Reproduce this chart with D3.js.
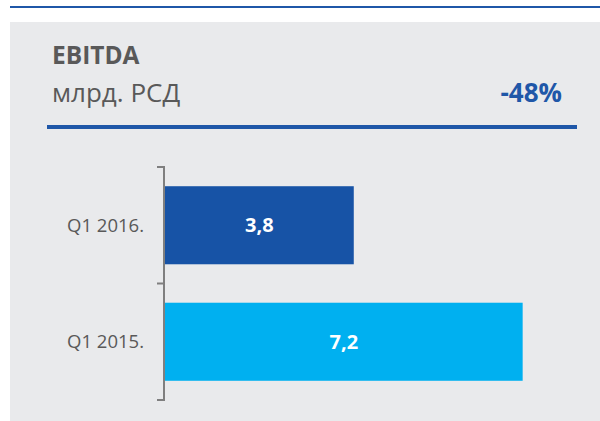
<!DOCTYPE html>
<html lang="sr">
<head>
  <meta charset="UTF-8">
  <title>EBITDA</title>
  <script src="https://cdn.jsdelivr.net/npm/d3@7"></script>
  <style>
    body {
      margin: 0;
      padding: 0;
      background: #fff;
      font-family: "Open Sans", sans-serif;
    }
  </style>
</head>
<body>
  <div id="chart"></div>
  <script>
    // data
    const categories = ["Q1 2016.", "Q1 2015."];
    const values = [3.8, 7.2];
    const valueLabels = ["3,8", "7,2"];
    const barColors = ["#1753A6", "#00B0F0"];
    const title = "EBITDA";
    const unit = "млрд. РСД";
    const change = "-48%";

    const width = 600, height = 421;
    const blue = "#1F57A8";
    const textGray = "#595959";

    const svg = d3.select("#chart")
      .append("svg")
      .attr("width", width)
      .attr("height", height);

    // top rule and grey panel
    svg.append("rect")
      .attr("x", 10).attr("y", 6)
      .attr("width", width - 10).attr("height", 2)
      .attr("fill", blue);

    svg.append("rect")
      .attr("x", 10).attr("y", 22)
      .attr("width", width - 10).attr("height", height - 22)
      .attr("fill", "#E9EAEC");

    // header
    svg.append("text")
      .attr("x", 52).attr("y", 64)
      .attr("font-size", 24.5)
      .attr("font-weight", "bold")
      .attr("fill", textGray)
      .text(title);

    svg.append("text")
      .attr("x", 52).attr("y", 101.5)
      .attr("font-size", 26)
      .attr("fill", textGray)
      .text(unit);

    svg.append("text")
      .attr("x", 562).attr("y", 101.5)
      .attr("text-anchor", "end")
      .attr("font-size", 26)
      .attr("font-weight", "bold")
      .attr("fill", blue)
      .text(change);

    svg.append("rect")
      .attr("x", 47).attr("y", 125)
      .attr("width", 530).attr("height", 4)
      .attr("fill", blue);

    // scales
    const x = d3.scaleLinear()
      .domain([0, 8])
      .range([165, 562.4]);

    const y = d3.scaleBand()
      .domain(categories)
      .range([167, 400])
      .paddingInner(0.33)
      .paddingOuter(0.165);

    // bars
    svg.selectAll("rect.bar")
      .data(values)
      .enter()
      .append("rect")
      .attr("class", "bar")
      .attr("x", x(0))
      .attr("y", (d, i) => y(categories[i]))
      .attr("width", d => x(d) - x(0))
      .attr("height", y.bandwidth())
      .attr("fill", (d, i) => barColors[i]);

    svg.selectAll("text.val")
      .data(values)
      .enter()
      .append("text")
      .attr("class", "val")
      .attr("x", d => (x(0) + x(d)) / 2)
      .attr("y", (d, i) => y(categories[i]) + y.bandwidth() / 2)
      .attr("dy", "0.36em")
      .attr("text-anchor", "middle")
      .attr("font-size", 20)
      .attr("font-weight", "bold")
      .attr("fill", "#fff")
      .text((d, i) => valueLabels[i]);

    // category axis: vertical line with ticks between the bands
    const axisX = 164;
    const axisG = svg.append("g").attr("stroke", "#7F7F7F").attr("stroke-width", 2);
    axisG.append("line")
      .attr("x1", axisX).attr("x2", axisX)
      .attr("y1", y.range()[0]).attr("y2", y.range()[1]);
    const tickYs = [y.range()[0], y(categories[1]) - y.step() * y.paddingInner() / 2, y.range()[1]];
    axisG.selectAll("line.tick")
      .data(tickYs)
      .enter()
      .append("line")
      .attr("class", "tick")
      .attr("x1", axisX - 7).attr("x2", axisX + 1)
      .attr("y1", d => d).attr("y2", d => d);

    svg.selectAll("text.cat")
      .data(categories)
      .enter()
      .append("text")
      .attr("class", "cat")
      .attr("x", 144)
      .attr("y", d => y(d) + y.bandwidth() / 2)
      .attr("dy", "0.36em")
      .attr("text-anchor", "end")
      .attr("font-size", 18.5)
      .attr("fill", textGray)
      .text(d => d);
  </script>
</body>
</html>
